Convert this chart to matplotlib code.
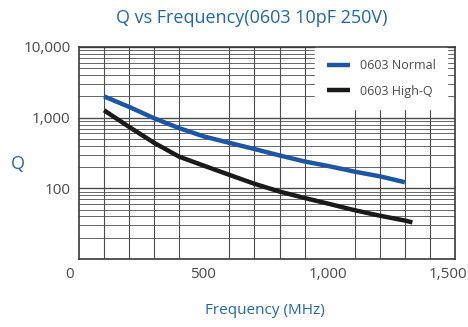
import numpy as np
import matplotlib
matplotlib.use("Agg")
import matplotlib.pyplot as plt
import matplotlib.transforms as mtransforms
from matplotlib.ticker import FixedLocator, LogLocator, NullFormatter

## data
freq_normal = [100, 200, 300, 400, 500, 600, 700, 800, 900, 1000, 1100, 1200, 1300]
q_normal = [2000, 1420, 980, 710, 540, 440, 360, 292, 240, 205, 172, 148, 122]
freq_highq = [100, 200, 300, 400, 500, 600, 700, 800, 900, 1000, 1100, 1200, 1300, 1330]
q_highq = [1270, 740, 440, 280, 208, 155, 116, 90, 73, 60, 49, 41, 35, 33]

x_ticks = [0, 500, 1000, 1500]
x_ticklabels = ["0", "500", "1,000", "1,500"]
y_ticks = [100, 1000, 10000]
y_ticklabels = ["100", "1,000", "10,000"]

blue = "#1d56a5"
text_blue = "#2366a8"
gray_txt = "#4a4a4a"
grid_col = "#4d4d4d"

plt.rcParams["font.family"] = ["Open Sans", "DejaVu Sans"]

W, H = 468, 327
fig = plt.figure(figsize=(W / 100, H / 100), dpi=100)
# axes box in pixels: left 79, right 455, top 47, bottom 259
ax = fig.add_axes([79 / W, 1 - 259 / H, (455 - 79) / W, (259 - 47) / H])

ax.plot(freq_normal, q_normal, color=blue, lw=3.2, solid_capstyle="butt", label="0603 Normal", zorder=4)
ax.plot(freq_highq, q_highq, color="#1a1a1a", lw=3.2, solid_capstyle="butt", label="0603 High-Q", zorder=4)

ax.set_yscale("log")
ax.set_xlim(0, 1500)
ax.set_ylim(10, 10000)

# grid: vertical every 100 MHz, log minor horizontals
ax.xaxis.set_minor_locator(FixedLocator(np.arange(0, 1501, 100)))
ax.yaxis.set_minor_locator(LogLocator(base=10, subs=np.arange(2, 10)))
ax.yaxis.set_minor_formatter(NullFormatter())
ax.grid(True, which="major", axis="y", color=grid_col, lw=1.0)
ax.grid(True, which="minor", axis="y", color=grid_col, lw=0.6)
ax.grid(True, which="minor", axis="x", color=grid_col, lw=0.8)
ax.set_axisbelow(True)

ax.set_xticks(x_ticks)
ax.set_xticklabels(x_ticklabels)
ax.set_yticks(y_ticks)
ax.set_yticklabels(y_ticklabels)
ax.tick_params(which="both", length=0, labelsize=11, labelcolor=gray_txt, pad=6)

# the reference nudges the x labels a little to the left
x_shift_px = [-9, -1, -2, -7]
for lab, dx in zip(ax.get_xticklabels(), x_shift_px):
    off = mtransforms.ScaledTranslation(dx / 100, 0, fig.dpi_scale_trans)
    lab.set_transform(lab.get_transform() + off)

for sp in ax.spines.values():
    sp.set_color("#3a3a3a")
    sp.set_linewidth(1.2)

fig.text(252 / W, 1 - 18 / H, "Q vs Frequency(0603 10pF 250V)", color=text_blue,
         fontsize=13, ha="center", va="center")
fig.text(265 / W, 1 - 311 / H, "Frequency (MHz)", color=text_blue, fontsize=11,
         ha="center", va="center")
fig.text(18 / W, 1 - 164 / H, "Q", color=text_blue, fontsize=13, ha="center", va="center")

leg = ax.legend(loc="upper right", bbox_to_anchor=(0.98, 0.995), borderaxespad=0,
                fontsize=9, handlelength=1.9, labelspacing=1.0, borderpad=0.9,
                frameon=True, fancybox=False, framealpha=1.0)
leg.get_frame().set_facecolor("white")
leg.get_frame().set_edgecolor("white")
for t in leg.get_texts():
    t.set_color(gray_txt)
leg.set_zorder(5)

fig.savefig("out.png", dpi=100)
